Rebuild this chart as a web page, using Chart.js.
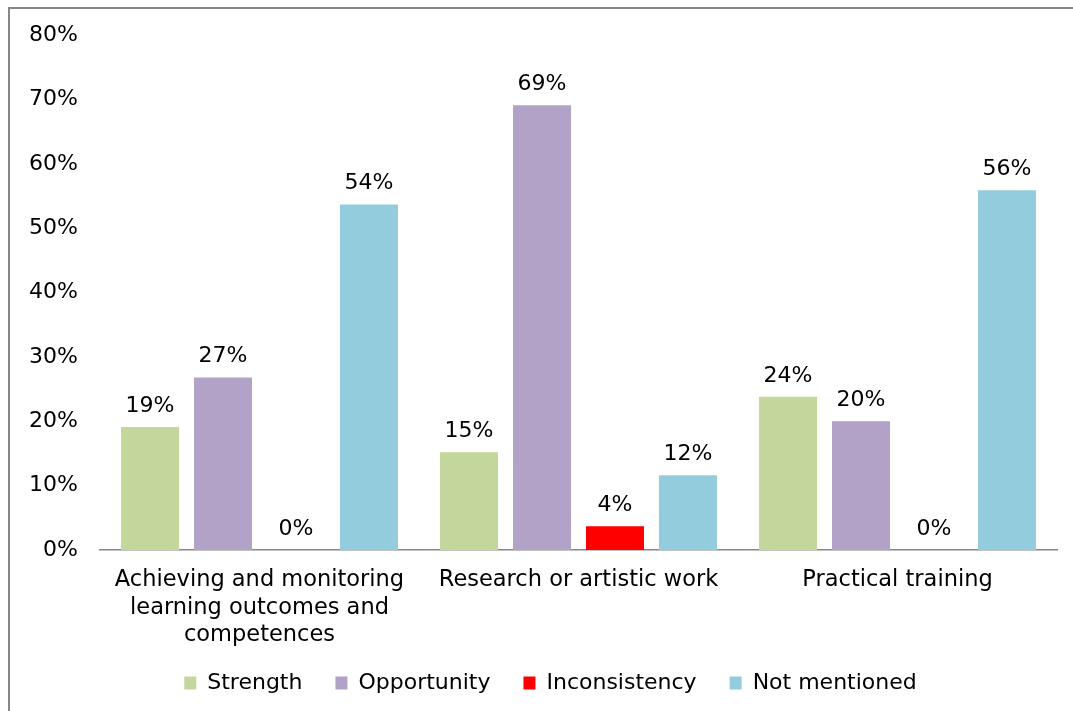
<!DOCTYPE html>
<html>
<head>
<meta charset="utf-8">
<script src="https://cdn.jsdelivr.net/npm/chart.js@4"></script>
<style>
  html, body { margin: 0; padding: 0; background: #fff; overflow: hidden; }
  #wrap { position: absolute; left: 0; top: 0; width: 1073px; height: 711px; }
  #frame { position: absolute; left: 8px; top: 7px; width: 1100px; height: 740px;
           border-left: 2px solid #888; border-top: 2px solid #888; pointer-events: none; }
</style>
</head>
<body>
<div id="wrap"><canvas id="c" width="1073" height="711"></canvas></div>
<div id="frame"></div>
<script>
const categories = [
  ["Achieving and monitoring", "learning outcomes and", "competences"],
  "Research or artistic work",
  "Practical training"
];
const strength      = [19.1, 15.2, 23.8];
const opportunity   = [26.8, 69.1, 20.0];
const inconsistency = [0, 3.7, 0];
const notMentioned  = [53.7, 11.6, 55.9];
const seriesNames  = ["Strength", "Opportunity", "Inconsistency", "Not mentioned"];
const seriesColors = ["#C3D69B", "#B2A2C7", "#FF0000", "#93CDDD"];

const FONT = "'DejaVu Sans', Verdana, sans-serif";

const labelPlugin = {
  id: 'barLabels',
  afterLayout(chart) {
    // place the legend row like the reference
    const lg = chart.legend;
    if (lg) {
      lg.left += 22; lg.right += 22;
      lg.top -= 23; lg.bottom -= 23;
    }
  },
  afterDatasetsDraw(chart) {
    const ctx = chart.ctx;
    ctx.save();
    ctx.font = "22px " + FONT;
    ctx.fillStyle = "#000";
    ctx.textAlign = "center";
    ctx.textBaseline = "middle";
    chart.data.datasets.forEach((ds, di) => {
      const meta = chart.getDatasetMeta(di);
      meta.data.forEach((bar, i) => {
        const v = ds.data[i];
        ctx.fillText(Math.round(v) + "%", bar.x, bar.y - 21);
      });
    });
    ctx.restore();
  }
};

const data = {
  labels: categories,
  datasets: [strength, opportunity, inconsistency, notMentioned].map((arr, k) => ({
    label: seriesNames[k],
    data: arr,
    backgroundColor: seriesColors[k],
    borderWidth: 0,
    categoryPercentage: 0.915,
    barPercentage: 0.795
  }))
};

new Chart(document.getElementById('c'), {
  type: 'bar',
  data,
  plugins: [labelPlugin],
  options: {
    responsive: false,
    animation: false,
    devicePixelRatio: 1,
    layout: { padding: { left: 0, right: 16, top: 32, bottom: -16 } },
    plugins: {
      legend: {
        position: 'bottom',
        labels: {
          font: { family: FONT, size: 22 },
          color: '#000',
          boxWidth: 12,
          boxHeight: 13,
          padding: 33
        }
      },
      tooltip: { enabled: false }
    },
    scales: {
      x: {
        grid: { display: false, drawTicks: false },
        border: { display: true, color: '#868686', width: 1.5 },
        ticks: {
          font: { family: FONT, size: 22.5, lineHeight: 1.21 },
          color: '#000',
          padding: 17,
          maxRotation: 0,
          autoSkip: false
        },
        afterFit(scale) { scale.height = 112; }
      },
      y: {
        min: 0,
        max: 80,
        grid: { display: false, drawTicks: false },
        border: { display: false },
        ticks: {
          stepSize: 10,
          font: { family: FONT, size: 22 },
          color: '#000',
          padding: 22,
          callback: v => v + "%"
        },
        afterFit(scale) { scale.width = 100; }
      }
    }
  }
});
</script>
</body>
</html>
